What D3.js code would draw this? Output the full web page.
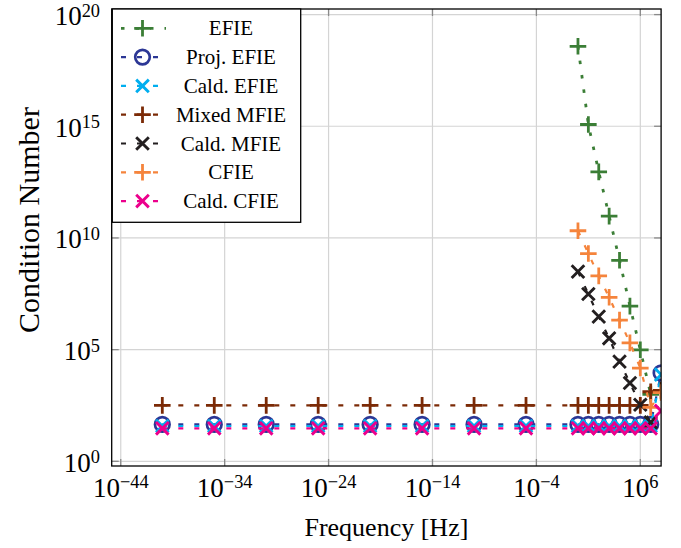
<!DOCTYPE html>
<html><head><meta charset="utf-8">
<script src="https://cdn.jsdelivr.net/npm/d3@7/dist/d3.min.js"></script>
<style>body{margin:0;background:#fff}svg{display:block}text{font-family:"Liberation Serif","Times New Roman",serif;fill:#000}</style>
</head><body><svg id="c" width="681" height="548"></svg>
<script>
// ---- data ----
const freqAll = [1e-40,1e-35,1e-30,1e-25,1e-20,1e-15,1e-10,1e-5,1e0,1e1,1e2,1e3,1e4,1e5,1e6,1e7,1e8];
const freqHigh = [1e0,1e1,1e2,1e3,1e4,1e5,1e6,1e7,1e8];
const efie      = [3.8e18,1.2e15,9.1e12,9.5e10,1.0e9,8.9e6,9.8e4,1.0e3];
const projEfie  = [45,45,45,45,45,45,45,45,45,45,45,45,45,45,45,45,9.1e3];
const caldEfie  = [38,38,38,38,38,38,38,38,38,38,38,38,38,38,38,38,7.6e3];
const mixedMfie = [320,320,320,320,320,320,320,320,320,320,320,320,320,320,320,1.3e3,1.5e3];
const caldMfie  = [3.1e8,3.1e7,3.0e6,3.2e5,2.9e4,3.2e3,340,56];
const cfie      = [2.1e10,2.0e9,2.0e8,2.2e7,2.1e6,2.0e5,1.5e4,260,1.2e3];
const caldCfie  = [30,30,30,30,30,30,30,30,30,30,30,30,30,30,30,30,180];
const xTickExp = [-44,-34,-24,-14,-4,6];
const yTickExp = [0,5,10,15,20];
const seriesNames = ["EFIE","Proj. EFIE","Cald. EFIE","Mixed MFIE","Cald. MFIE","CFIE","Cald. CFIE"];

const series = [
  {name:seriesNames[0], x:freqHigh, y:efie,      color:"#3b7e36", marker:"plus",   dash:"3.5,11", w:2.8},
  {name:seriesNames[1], x:freqAll,  y:projEfie,  color:"#2c3795", marker:"circle", dash:"5,11", w:2.2},
  {name:seriesNames[2], x:freqAll,  y:caldEfie,  color:"#00aeef", marker:"cross",  dash:"5,11", w:2.2},
  {name:seriesNames[3], x:freqAll,  y:mixedMfie, color:"#7b2a06", marker:"plus",   dash:"5,11", w:2.2},
  {name:seriesNames[4], x:freqHigh, y:caldMfie,  color:"#231f20", marker:"cross",  dash:"5,11", w:2.2},
  {name:seriesNames[5], x:freqHigh, y:cfie,      color:"#f5843c", marker:"plus",   dash:"5,11", w:2.2},
  {name:seriesNames[6], x:freqAll,  y:caldCfie,  color:"#ec008c", marker:"cross",  dash:"5,11", w:2.2}
];

// ---- layout ----
const L=111.7, R=661.1, T=9, B=466;
const svg = d3.select("#c");
const x = d3.scaleLog().domain([Math.pow(10,-44.87), 1e8]).range([L,R]);
const y = d3.scaleLog().domain([Math.pow(10,-0.21), Math.pow(10,20.25)]).range([B,T]);

svg.append("defs").append("clipPath").attr("id","clip")
  .append("rect").attr("x",L).attr("y",T).attr("width",R-L).attr("height",B-T);

// grid
const g = svg.append("g");
xTickExp.forEach(e=>{
  const px = x(Math.pow(10,e));
  g.append("line").attr("x1",px).attr("x2",px).attr("y1",T).attr("y2",B).attr("stroke","#d4d4d4").attr("stroke-width",1.2);
});
yTickExp.forEach(e=>{
  const py = y(Math.pow(10,e));
  g.append("line").attr("x1",L).attr("x2",R).attr("y1",py).attr("y2",py).attr("stroke","#d4d4d4").attr("stroke-width",1.2);
});
// tick marks
xTickExp.forEach(e=>{
  const px = x(Math.pow(10,e));
  g.append("line").attr("x1",px).attr("x2",px).attr("y1",B).attr("y2",B-7).attr("stroke","#8a8a8a").attr("stroke-width",1.3);
  g.append("line").attr("x1",px).attr("x2",px).attr("y1",T).attr("y2",T+7).attr("stroke","#8a8a8a").attr("stroke-width",1.3);
});
yTickExp.forEach(e=>{
  const py = y(Math.pow(10,e));
  g.append("line").attr("x1",L).attr("x2",L+7).attr("y1",py).attr("y2",py).attr("stroke","#8a8a8a").attr("stroke-width",1.3);
  g.append("line").attr("x1",R).attr("x2",R-7).attr("y1",py).attr("y2",py).attr("stroke","#8a8a8a").attr("stroke-width",1.3);
});

function drawMarker(sel, type, cx, cy, color){
  if(type==="plus"){
    const s=8.3;
    sel.append("path").attr("d",`M${cx-s},${cy}H${cx+s}M${cx},${cy-s}V${cy+s}`)
      .attr("stroke",color).attr("stroke-width",2.8).attr("fill","none");
  } else if(type==="cross"){
    const s=6.3;
    sel.append("path").attr("d",`M${cx-s},${cy-s}L${cx+s},${cy+s}M${cx-s},${cy+s}L${cx+s},${cy-s}`)
      .attr("stroke",color).attr("stroke-width",2.9).attr("fill","none");
  } else {
    sel.append("circle").attr("cx",cx).attr("cy",cy).attr("r",7.3)
      .attr("stroke",color).attr("stroke-width",2.7).attr("fill","none");
  }
}

// data
const dg = svg.append("g").attr("clip-path","url(#clip)");
const line = d3.line().x(d=>x(d[0])).y(d=>y(d[1]));
series.forEach(s=>{
  const pts = s.y.map((v,i)=>[s.x[i],v]);
  dg.append("path").attr("d",line(pts)).attr("fill","none").attr("stroke",s.color)
    .attr("stroke-width",s.w).attr("stroke-dasharray",s.dash);
  pts.forEach(p=>drawMarker(dg, s.marker, x(p[0]), y(p[1]), s.color));
});

// frame
svg.append("rect").attr("x",L).attr("y",T).attr("width",R-L).attr("height",B-T)
  .attr("fill","none").attr("stroke","#000").attr("stroke-width",1.3);

// tick labels
const fs=27;
xTickExp.forEach(e=>{
  const t = svg.append("text").attr("x",x(Math.pow(10,e))).attr("y",497).attr("text-anchor","middle").attr("font-size",fs);
  t.append("tspan").text("10");
  t.append("tspan").attr("dy",-9).attr("font-size",fs*0.68).text(String(e).replace("-","\u2212"));
});
yTickExp.forEach(e=>{
  const t = svg.append("text").attr("x",100).attr("y",y(Math.pow(10,e))+10.5).attr("text-anchor","end").attr("font-size",fs);
  t.append("tspan").text("10");
  t.append("tspan").attr("dy",-8.5).attr("font-size",fs*0.68).text(String(e));
});
svg.append("text").attr("x",(L+R)/2).attr("y",536).attr("text-anchor","middle").attr("font-size",26).text("Frequency [Hz]");
svg.append("text").attr("transform","translate(39,220) rotate(-90)").attr("text-anchor","middle").attr("font-size",30).text("Condition Number");

// legend
const lg = svg.append("g");
lg.append("rect").attr("x",112.3).attr("y",9).attr("width",188.4).attr("height",213.3)
  .attr("fill","#fff").attr("stroke","#000").attr("stroke-width",1.3);
series.forEach((s,i)=>{
  const cy = 28.3 + i*28.8;
  lg.append("line").attr("x1",121).attr("x2",166).attr("y1",cy).attr("y2",cy)
    .attr("stroke",s.color).attr("stroke-width",s.w).attr("stroke-dasharray",s.dash);
  drawMarker(lg, s.marker, 142.5, cy, s.color);
  lg.append("text").attr("x",231).attr("y",cy+7).attr("text-anchor","middle").attr("font-size",21).text(s.name);
});
</script></body></html>
